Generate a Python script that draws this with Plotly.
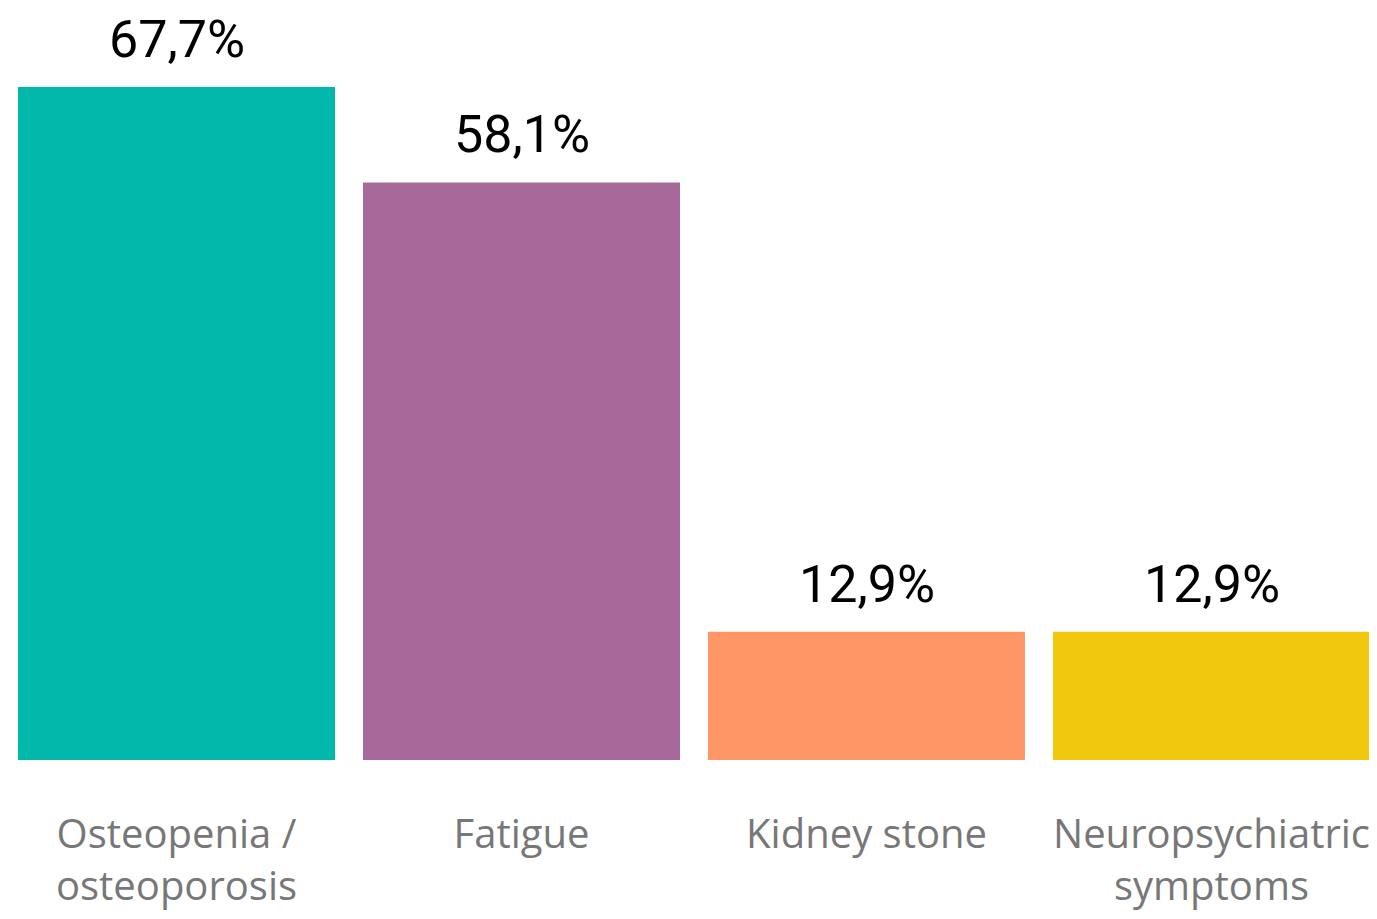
import plotly.graph_objects as go

categories = ["Osteopenia /<br>osteoporosis", "Fatigue", "Kidney stone", "Neuropsychiatric<br>symptoms"]
values = [67.7, 58.1, 12.9, 12.9]
value_labels = ["67,7%", "58,1%", "12,9%", "12,9%"]
colors = ["#01B8AA", "#A66999", "#FE9666", "#F2C80F"]

xpos = list(range(len(categories)))

# page has an 8px body margin; compensate so the figure lines up with the 1377x919 window
W, H = 1369, 911
spacing = 345.0
first_center = 168.5
baseline = 752.0
px_per_unit = 9.941

fig = go.Figure()
fig.add_trace(go.Bar(
    x=xpos, y=values, marker=dict(color=colors, line=dict(width=0)),
    width=317/345, hoverinfo="skip",
))

for x, v, t in zip(xpos, values, value_labels):
    fig.add_annotation(x=x, y=v, text=t, showarrow=False, yanchor="bottom",
                       yshift=15, font=dict(family="Roboto", size=52, color="#000000"))

fig.update_layout(
    width=W, height=H,
    margin=dict(l=0, r=0, t=0, b=H - int(baseline)),
    plot_bgcolor="white", paper_bgcolor="white",
    showlegend=False,
    xaxis=dict(range=[-first_center/spacing, (W-first_center)/spacing], tickvals=xpos, ticktext=categories,
               showgrid=False, zeroline=False, showline=False, ticks="",
               tickfont=dict(family="Open Sans", size=40, color="#777777"),
               ticklabelstandoff=47),
    yaxis=dict(range=[0, baseline/px_per_unit], visible=False),
)

fig.write_html("out.html")
